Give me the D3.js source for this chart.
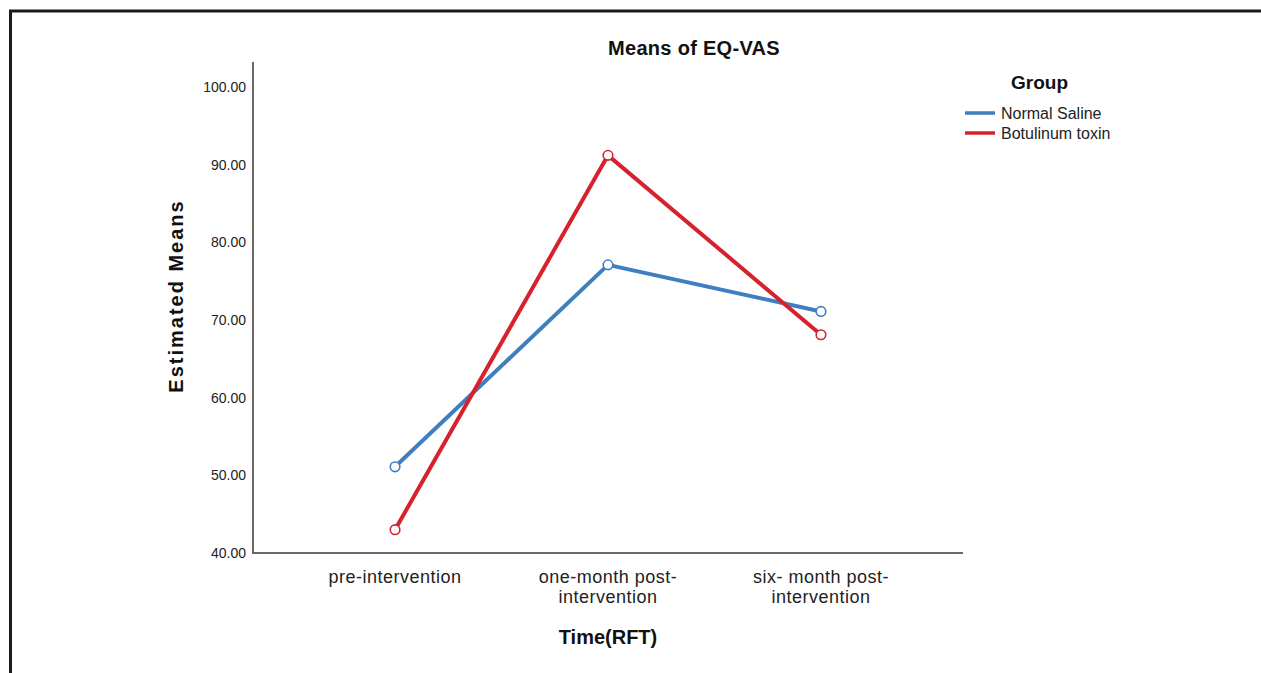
<!DOCTYPE html>
<html><head><meta charset="utf-8">
<script src="https://cdn.jsdelivr.net/npm/d3@7/dist/d3.min.js"></script>
<style>body{margin:0;background:#fff}svg{display:block}text{font-family:"Liberation Sans",Arial,sans-serif}</style>
</head><body>
<svg id="c" width="1261" height="673"></svg>
<script>
const categories = ["pre-intervention", "one-month post-intervention", "six- month post-intervention"];
const categoryLines = [["pre-intervention"], ["one-month post-", "intervention"], ["six- month post-", "intervention"]];
const seriesNames = ["Normal Saline", "Botulinum toxin"];
const normalSaline = [51.1, 77.1, 71.1];
const botulinumToxin = [43.0, 91.2, 68.1];
const yTicks = [40, 50, 60, 70, 80, 90, 100];
const colors = ["#3f7fc0", "#d7222e"];

const svg = d3.select("#c");
// frame
svg.append("path").attr("d", "M10.5,1300V11H1300").attr("fill","none").attr("stroke","#1a1a1a").attr("stroke-width",3);

const x0 = 253, x1 = 963, yTop = 62, yBot = 553;
const y = d3.scaleLinear().domain([40, 100]).range([553, 87]);
const x = d3.scalePoint().domain(categories).range([x0, x1]).padding(0.667);

// axes
const yAxis = d3.axisLeft(y).tickValues(yTicks).tickSize(0).tickPadding(7).tickFormat(d3.format(".2f"));
const gy = svg.append("g").attr("transform", `translate(${x0},0)`).call(yAxis);
gy.select(".domain").remove();
gy.selectAll("text").attr("font-size", 14).attr("fill", "#222").attr("font-family", "Liberation Sans, Arial, sans-serif");
svg.append("line").attr("x1", x0).attr("x2", x0).attr("y1", yTop).attr("y2", yBot+1).attr("stroke", "#6e6664").attr("stroke-width", 2);

const xAxis = d3.axisBottom(x).tickSize(0).tickFormat("");
const gx = svg.append("g").attr("transform", `translate(0,${yBot})`).call(xAxis);
gx.select(".domain").remove();
svg.append("line").attr("x1", x0-1).attr("x2", x1).attr("y1", yBot).attr("y2", yBot).attr("stroke", "#6e6664").attr("stroke-width", 2);
categories.forEach((c, i) => {
  const t = svg.append("text").attr("x", x(c)).attr("y", 583).attr("text-anchor", "middle").attr("font-size", 18).attr("letter-spacing", 0.5).attr("fill", "#222");
  categoryLines[i].forEach((l, j) => t.append("tspan").attr("x", x(c)).attr("dy", j ? 20 : 0).text(l));
});

// titles
svg.append("text").attr("x", 694).attr("y", 55).attr("text-anchor", "middle").attr("font-size", 20).attr("letter-spacing", 0.3).attr("font-weight", "bold").attr("fill", "#111").text("Means of EQ-VAS");
svg.append("text").attr("x", 608).attr("y", 644).attr("text-anchor", "middle").attr("font-size", 20).attr("font-weight", "bold").attr("fill", "#111").text("Time(RFT)");
svg.append("text").attr("transform", "translate(183,296) rotate(-90)").attr("text-anchor", "middle").attr("font-size", 20).attr("letter-spacing", 2).attr("font-weight", "bold").attr("fill", "#111").text("Estimated  Means");

// lines
const series = [normalSaline, botulinumToxin];
const line = d3.line().x((d, i) => x(categories[i])).y(d => y(d));
series.forEach((s, k) => {
  svg.append("path").datum(s).attr("d", line).attr("fill", "none").attr("stroke", colors[k]).attr("stroke-width", 4).attr("stroke-linejoin", "round");
  svg.selectAll(null).data(s).enter().append("circle")
    .attr("cx", (d, i) => x(categories[i])).attr("cy", d => y(d)).attr("r", 4.8)
    .attr("fill", "#fff").attr("stroke", colors[k]).attr("stroke-width", 1.6);
});

// legend
svg.append("text").attr("x", 1011).attr("y", 89).attr("font-size", 19).attr("font-weight", "bold").attr("fill", "#111").text("Group");
seriesNames.forEach((n, k) => {
  const yy = 113 + k * 20;
  svg.append("line").attr("x1", 965).attr("x2", 995).attr("y1", yy).attr("y2", yy).attr("stroke", colors[k]).attr("stroke-width", 3.5);
  svg.append("text").attr("x", 1001).attr("y", yy + 5.5).attr("font-size", 16).attr("fill", "#222").text(n);
});
</script>
</body></html>
